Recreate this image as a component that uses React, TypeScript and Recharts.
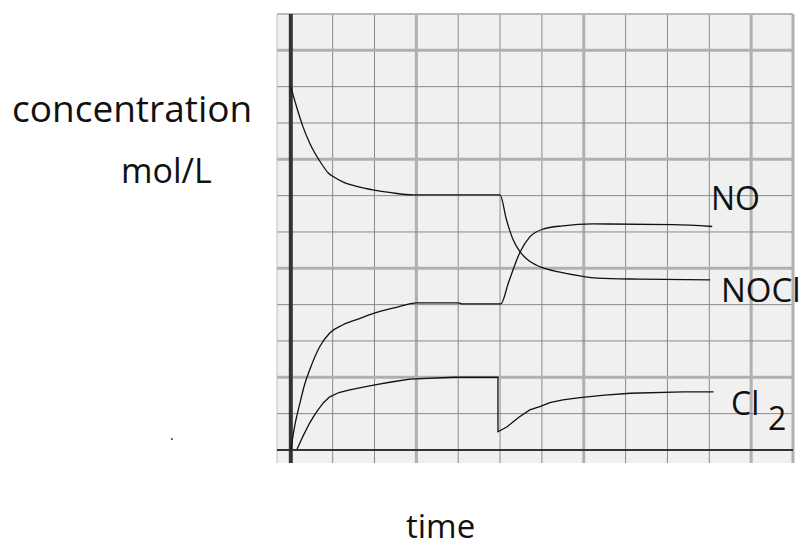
import { LineChart, Line, XAxis, YAxis, ReferenceLine, ReferenceArea } from "recharts";

// grid positions in chart units (one cell = one unit)
const X_MIN = -0.33;
const X_MAX = 12;
const Y_MIN = -0.36;
const Y_MAX = 12;
const THIN_X = [1, 2, 4, 5, 6, 8, 9, 10, 12];
const THICK_X = [3, 7, 11];
const THIN_Y = [1, 3, 4, 6, 7, 9, 10, 12];
const THICK_Y = [2, 5, 8, 11];

const NOCL = [
  { x: 0, y: 10 }, { x: 0.15, y: 9.4 }, { x: 0.29, y: 8.9 }, { x: 0.45, y: 8.45 },
  { x: 0.57, y: 8.18 }, { x: 0.75, y: 7.85 }, { x: 0.89, y: 7.63 }, { x: 1.05, y: 7.5 },
  { x: 1.24, y: 7.38 }, { x: 1.6, y: 7.25 }, { x: 1.96, y: 7.16 }, { x: 2.4, y: 7.08 },
  { x: 2.92, y: 7.02 }, { x: 5.0, y: 7.02 }, { x: 5.15, y: 6.35 }, { x: 5.31, y: 5.79 },
  { x: 5.48, y: 5.45 }, { x: 5.7, y: 5.2 }, { x: 6.03, y: 5.01 }, { x: 6.4, y: 4.9 },
  { x: 6.91, y: 4.79 }, { x: 7.32, y: 4.73 }, { x: 8.35, y: 4.7 }, { x: 10.02, y: 4.68 },
];

const NO = [
  { x: 0, y: 0 }, { x: 0.1, y: 0.7 }, { x: 0.22, y: 1.3 }, { x: 0.33, y: 1.8 },
  { x: 0.45, y: 2.2 }, { x: 0.69, y: 2.84 }, { x: 0.93, y: 3.22 }, { x: 1.24, y: 3.44 },
  { x: 1.6, y: 3.6 }, { x: 2.01, y: 3.77 }, { x: 2.5, y: 3.92 }, { x: 3.01, y: 4.05 },
  { x: 4.0, y: 4.05 }, { x: 4.1, y: 4.02 }, { x: 5.02, y: 4.02 }, { x: 5.2, y: 4.6 },
  { x: 5.48, y: 5.45 }, { x: 5.7, y: 5.85 }, { x: 6.03, y: 6.08 }, { x: 6.5, y: 6.17 },
  { x: 7.22, y: 6.22 }, { x: 9.14, y: 6.2 }, { x: 10.07, y: 6.15 },
];

const CL2 = [
  { x: 0.14, y: 0 }, { x: 0.22, y: 0.2 }, { x: 0.3, y: 0.4 }, { x: 0.45, y: 0.74 },
  { x: 0.55, y: 0.93 }, { x: 0.65, y: 1.1 }, { x: 0.78, y: 1.3 }, { x: 0.93, y: 1.46 },
  { x: 1.15, y: 1.58 }, { x: 1.41, y: 1.65 }, { x: 1.7, y: 1.72 }, { x: 2.01, y: 1.79 },
  { x: 2.4, y: 1.87 }, { x: 2.85, y: 1.95 }, { x: 3.9, y: 2.0 }, { x: 4.95, y: 2.0 },
  { x: 4.95, y: 0.5 }, { x: 5.16, y: 0.63 }, { x: 5.3, y: 0.76 }, { x: 5.45, y: 0.9 },
  { x: 5.71, y: 1.1 }, { x: 5.95, y: 1.19 }, { x: 6.19, y: 1.3 }, { x: 6.5, y: 1.38 },
  { x: 6.91, y: 1.44 }, { x: 7.5, y: 1.51 }, { x: 8.11, y: 1.56 }, { x: 9.38, y: 1.6 },
  { x: 10.1, y: 1.6 },
];

const FONT = "'Open Sans', sans-serif";
const INK = "#111";

export default function App() {
  return (
    <div style={{ position: "absolute", left: 0, top: 0, width: 809, height: 550, background: "#fff" }}>
      <LineChart
        width={809}
        height={550}
        margin={{ top: 14, right: 16, bottom: 87, left: 277 }}
      >
        <XAxis type="number" dataKey="x" domain={[X_MIN, X_MAX]} hide allowDuplicatedCategory={false} />
        <YAxis type="number" dataKey="y" domain={[Y_MIN, Y_MAX]} hide />
        <ReferenceArea x1={X_MIN} x2={X_MAX} y1={Y_MIN} y2={Y_MAX} fill="#f0f0f0" fillOpacity={1} stroke="none" />
        {THIN_X.map((v) => (
          <ReferenceLine key={"tx" + v} x={v} stroke="#8a8a8a" strokeWidth={1} />
        ))}
        {THICK_X.map((v) => (
          <ReferenceLine key={"kx" + v} x={v} stroke="#b0b0b0" strokeWidth={3} />
        ))}
        {THIN_Y.map((v) => (
          <ReferenceLine key={"ty" + v} y={v} stroke="#8a8a8a" strokeWidth={1} />
        ))}
        {THICK_Y.map((v) => (
          <ReferenceLine key={"ky" + v} y={v} stroke="#b0b0b0" strokeWidth={3} />
        ))}
        <ReferenceLine x={X_MIN} stroke="#c0c0c0" strokeWidth={1} />
        <ReferenceLine x={X_MAX} stroke="#b0b0b0" strokeWidth={3} />
        <ReferenceLine y={Y_MAX} stroke="#b8b8b8" strokeWidth={2} />
        <ReferenceLine y={0} stroke="#333" strokeWidth={2} />
        <ReferenceLine x={0} stroke="#333" strokeWidth={4} />
        <Line data={NOCL} dataKey="y" type="monotone" stroke={INK} strokeWidth={1.3} dot={false} isAnimationActive={false} />
        <Line data={NO} dataKey="y" type="monotone" stroke={INK} strokeWidth={1.3} dot={false} isAnimationActive={false} />
        <Line data={CL2} dataKey="y" type="linear" stroke={INK} strokeWidth={1.3} dot={false} isAnimationActive={false} />
      </LineChart>
      <svg
        width={809}
        height={550}
        style={{ position: "absolute", left: 0, top: 0, pointerEvents: "none" }}
        fontFamily={FONT}
        fill={INK}
      >
        <text x={12} y={122} fontSize={37}>concentration</text>
        <text x={121} y={183} fontSize={34}>mol/L</text>
        <text x={711} y={210} fontSize={32}>NO</text>
        <text x={721} y={302} fontSize={33}>NOCl</text>
        <text x={731} y={415} fontSize={32}>Cl</text>
        <text x={768} y={430} fontSize={32}>2</text>
        <text x={406} y={538} fontSize={33}>time</text>
        <text x={170} y={440} fontSize={14}>.</text>
      </svg>
    </div>
  );
}
